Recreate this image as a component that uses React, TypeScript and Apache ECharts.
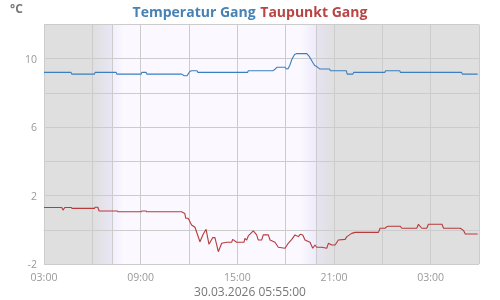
import React, { useEffect, useRef } from "react";
import * as echarts from "echarts";

// hours since 29.03.2026 00:00
const tempTimes = [3.0, 4.68, 4.72, 6.13, 6.17, 7.48, 7.52, 9.03, 9.07, 9.34, 9.38, 11.55, 11.7, 11.87, 12.05, 12.16, 12.5, 12.55, 15.64, 15.68, 17.2, 17.3, 17.45, 17.96, 18.05, 18.15, 18.27, 18.38, 18.55, 18.69, 19.31, 19.45, 19.55, 19.68, 19.8, 19.93, 20.05, 20.13, 20.72, 20.78, 21.76, 21.82, 22.17, 22.22, 24.15, 24.2, 25.08, 25.12, 28.92, 28.96, 29.92];
const tempValues = [9.2, 9.2, 9.1, 9.1, 9.2, 9.2, 9.1, 9.1, 9.2, 9.2, 9.1, 9.1, 9.0, 9.0, 9.25, 9.3, 9.3, 9.2, 9.2, 9.3, 9.3, 9.35, 9.5, 9.5, 9.4, 9.42, 9.65, 9.95, 10.25, 10.3, 10.3, 10.15, 10.0, 9.78, 9.6, 9.54, 9.45, 9.4, 9.4, 9.3, 9.3, 9.1, 9.1, 9.2, 9.2, 9.3, 9.3, 9.2, 9.2, 9.1, 9.1];

const dewTimes = [3.0, 4.1, 4.18, 4.29, 4.7, 4.74, 6.13, 6.17, 6.34, 6.42, 7.56, 7.6, 9.03, 9.07, 9.34, 9.38, 11.54, 11.74, 11.8, 11.95, 12.16, 12.37, 12.68, 12.88, 13.06, 13.24, 13.47, 13.61, 13.82, 14.03, 14.34, 14.65, 14.71, 14.96, 15.41, 15.47, 15.58, 15.68, 15.99, 16.2, 16.3, 16.51, 16.61, 16.92, 17.03, 17.34, 17.54, 17.96, 18.16, 18.38, 18.58, 18.79, 18.9, 19.06, 19.2, 19.51, 19.68, 19.82, 19.93, 20.24, 20.55, 20.65, 20.86, 21.07, 21.27, 21.69, 21.8, 22.1, 22.31, 23.76, 23.86, 24.17, 24.28, 24.38, 25.1, 25.21, 26.14, 26.24, 26.45, 26.76, 26.86, 27.7, 27.8, 28.84, 29.05, 29.15, 29.92];
const dewValues = [1.3, 1.3, 1.15, 1.3, 1.3, 1.25, 1.25, 1.32, 1.32, 1.1, 1.1, 1.05, 1.05, 1.1, 1.1, 1.05, 1.05, 0.95, 0.67, 0.67, 0.28, 0.15, -0.7, -0.26, 0.03, -0.85, -0.46, -0.46, -1.28, -0.79, -0.73, -0.73, -0.56, -0.73, -0.73, -0.5, -0.6, -0.36, -0.07, -0.3, -0.6, -0.6, -0.3, -0.3, -0.6, -0.73, -1.02, -1.08, -0.79, -0.56, -0.3, -0.4, -0.26, -0.3, -0.6, -0.73, -1.08, -0.89, -1.02, -1.02, -1.08, -0.79, -0.89, -0.89, -0.6, -0.56, -0.4, -0.21, -0.15, -0.15, 0.09, 0.09, 0.18, 0.21, 0.21, 0.09, 0.09, 0.32, 0.09, 0.09, 0.32, 0.32, 0.09, 0.09, -0.05, -0.25, -0.25];

const dayPhases = [3, 6.03, 7.25, 8.0, 18.9, 19.9, 21.0, 30];
const sunEvents = [7.25, 19.9];

const titleTemp = "Temperatur Gang";
const titleDew = "Taupunkt Gang";
const unitLabel = "°C";
const dateLabel = "30.03.2026 05:55:00";

const FONT = "'Open Sans', sans-serif";

export default function App() {
  const ref = useRef<HTMLDivElement>(null);
  useEffect(() => {
    if (!ref.current) return;
    const chart = echarts.init(ref.current, undefined, { renderer: "svg" });
    const grad = (a: string, b: string) =>
      new echarts.graphic.LinearGradient(0, 0, 1, 0, [
        { offset: 0, color: a },
        { offset: 1, color: b },
      ]);
    const NIGHT = "#dfdfdf";
    const DAY = "#fbf9ff";
    const areaColors = [
      NIGHT,
      grad(NIGHT, "#e9e6f6"),
      grad("#f2eefd", DAY),
      DAY,
      grad(DAY, "#eeeafb"),
      grad("#e6e3f1", NIGHT),
      NIGHT,
    ];
    const areas = areaColors.map((c, i) => [
      { xAxis: dayPhases[i], itemStyle: { color: c } },
      { xAxis: dayPhases[i + 1] },
    ]);
    const pad = (n: number) => String(n).padStart(2, "0");
    chart.setOption({
      animation: false,
      textStyle: { fontFamily: FONT },
      title: {
        text: `{a|${titleTemp}} {b|${titleDew}}`,
        left: "center",
        top: 2,
        padding: 0,
        textStyle: {
          rich: {
            a: { color: "#4682b4", fontSize: 14, fontWeight: "bold", fontFamily: FONT },
            b: { color: "#b94444", fontSize: 14, fontWeight: "bold", fontFamily: FONT },
          },
        },
      },
      graphic: [
        {
          type: "text",
          left: 10,
          top: 2,
          style: { text: unitLabel, fill: "#777", font: `bold 12px ${FONT}` },
        },
        {
          type: "text",
          left: "center",
          top: 285,
          style: { text: dateLabel, fill: "#777", font: `12px ${FONT}` },
        },
      ],
      grid: { left: 44, right: 21, top: 24.5, bottom: 36, containLabel: false },
      xAxis: {
        type: "value",
        min: 3,
        max: 30,
        interval: 3,
        z: 1,
        axisLine: { show: true, lineStyle: { color: "#ccc" } },
        axisTick: { show: false },
        splitLine: { show: true, lineStyle: { color: "#ccc", width: 1 } },
        axisLabel: {
          color: "#999",
          fontSize: 10.5,
          margin: 7,
          fontFamily: FONT,
          showMaxLabel: false,
          formatter: (v: number) => ((v - 3) % 6 === 0 ? pad(v % 24) + ":00" : ""),
        },
      },
      yAxis: {
        type: "value",
        min: -2,
        max: 12,
        interval: 2,
        z: 1,
        axisLine: { show: true, lineStyle: { color: "#ccc" } },
        axisTick: { show: false },
        splitLine: { show: true, lineStyle: { color: "#ccc", width: 1 } },
        axisLabel: {
          color: "#999",
          fontSize: 10.5,
          margin: 7,
          fontFamily: FONT,
          formatter: (v: number) => ((v + 2) % 4 === 0 ? String(v) : ""),
        },
      },
      series: [
        {
          type: "line",
          data: [],
          z: -1,
          silent: true,
          markArea: { silent: true, z: -1, data: areas },
          markLine: {
            silent: true,
            z: 1,
            symbol: "none",
            label: { show: false },
            lineStyle: { color: "#ccc", type: "solid", width: 1 },
            data: sunEvents.map((h) => ({ xAxis: h })),
          },
        },
        {
          name: titleTemp,
          type: "line",
          showSymbol: false,
          z: 3,
          lineStyle: { color: "#3a7fbf", width: 1.1 },
          itemStyle: { color: "#3a7fbf" },
          data: tempTimes.map((t, i) => [t, tempValues[i]]),
        },
        {
          name: titleDew,
          type: "line",
          showSymbol: false,
          z: 3,
          lineStyle: { color: "#b83a3a", width: 1.1 },
          itemStyle: { color: "#b83a3a" },
          data: dewTimes.map((t, i) => [t, dewValues[i]]),
        },
      ],
    });
    return () => chart.dispose();
  }, []);
  return (
    <div
      ref={ref}
      style={{ position: "fixed", left: 0, top: 0, width: 500, height: 300 }}
    />
  );
}
